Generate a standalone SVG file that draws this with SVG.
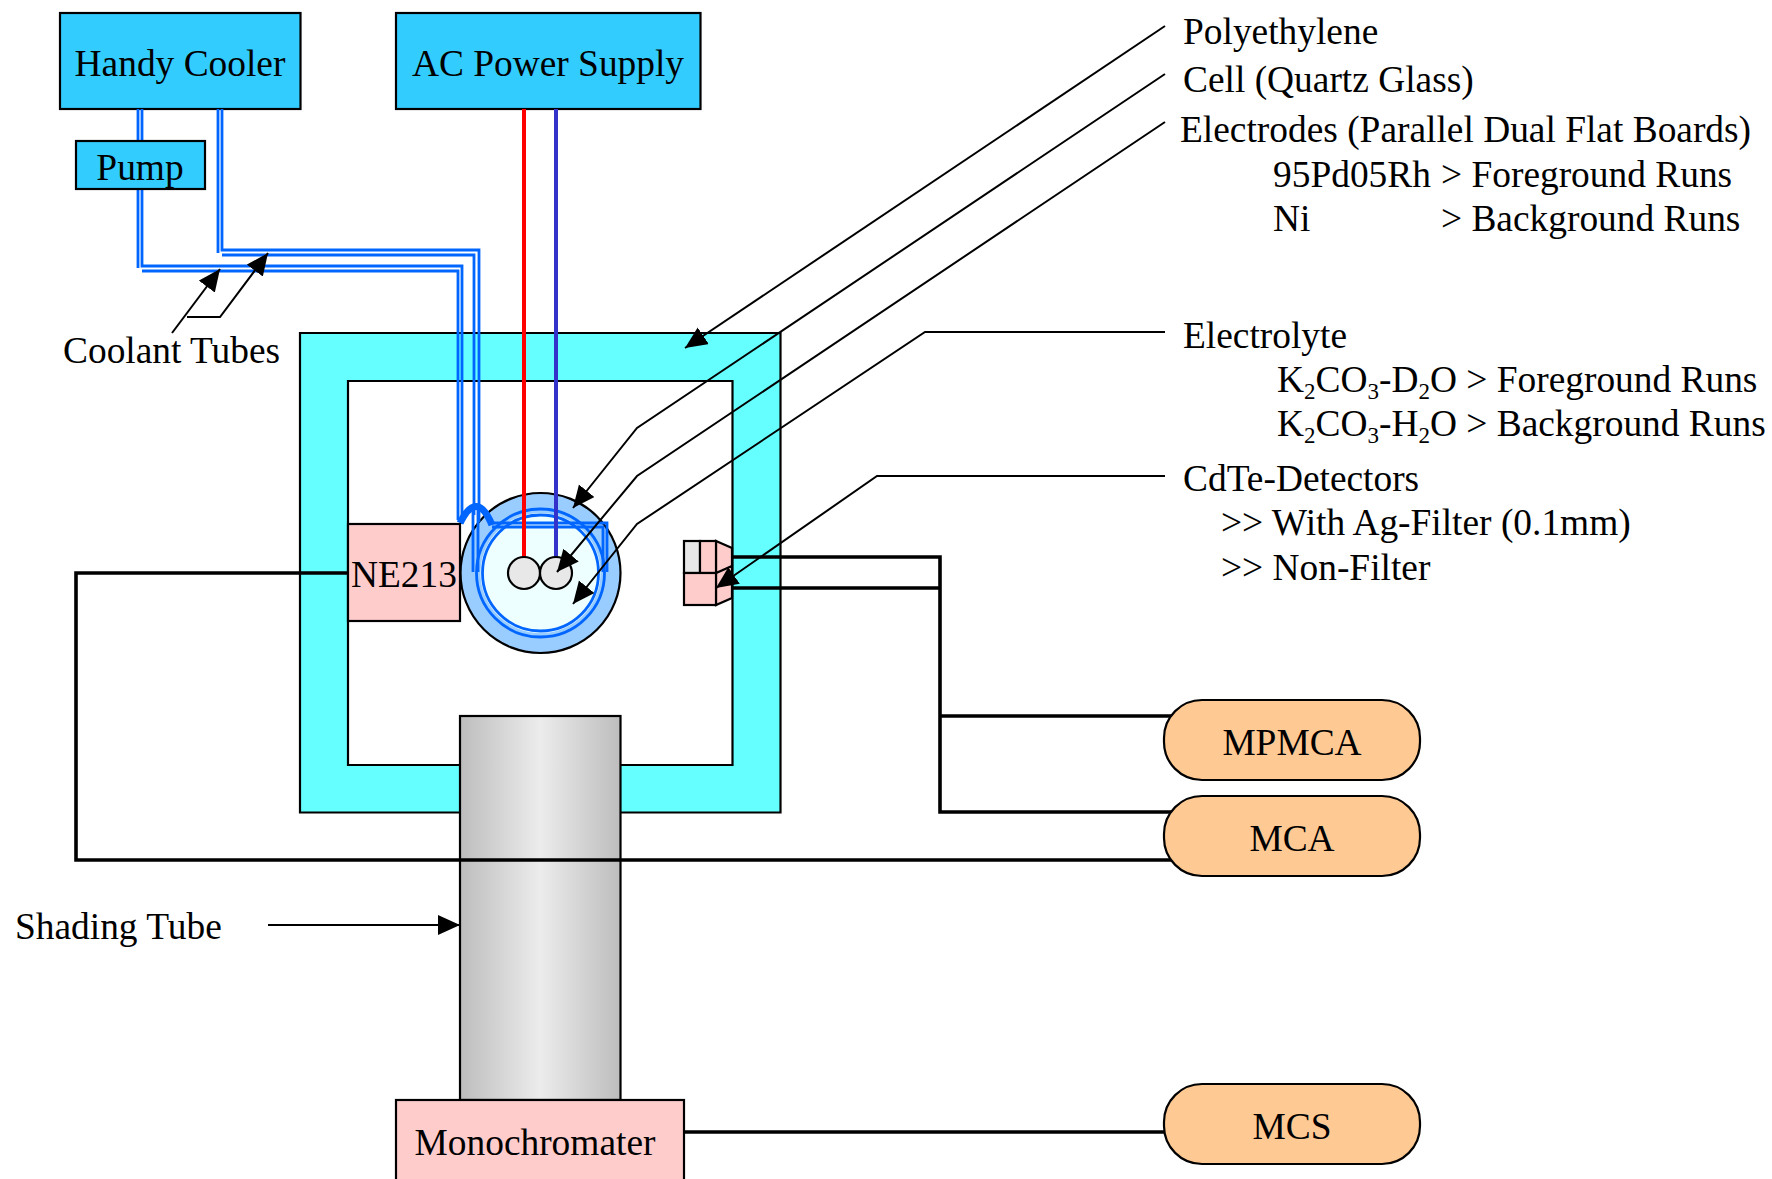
<svg xmlns="http://www.w3.org/2000/svg" width="1772" height="1179" viewBox="0 0 1772 1179">
<style>
text{font-family:"Liberation Serif","Times New Roman",serif;font-size:37.4px;fill:#000}
.m{text-anchor:middle}
.box{stroke:#000;stroke-width:2.200}
.cy{fill:#33ccff}.pk{fill:#ffcccc}.aq{fill:#66ffff}.or{fill:#ffc993}
.tube{fill:none;stroke:#0066ff;stroke-width:2.800}
.w{fill:none;stroke:#000;stroke-width:3.600}
.a{fill:none;stroke:#000;stroke-width:2;marker-end:url(#ah)}
.s{font-size:23px}
</style>
<defs>
<marker id="ah" markerUnits="userSpaceOnUse" markerWidth="26" markerHeight="22" refX="22" refY="10" orient="auto"><path d="M0 0L22 10L0 20Z" fill="#000"/></marker>
<linearGradient id="g" x1="0" x2="1" y1="0" y2="0"><stop offset="0" stop-color="#bdbdbd"/><stop offset=".5" stop-color="#ececec"/><stop offset="1" stop-color="#bdbdbd"/></linearGradient>
</defs>
<g id="polyethylene-box"><path class="box aq" fill-rule="evenodd" d="M300 333H780.500V812.500H300ZM348 381V765H732.500V381Z"/></g>
<g id="handy-cooler"><rect class="box cy" x="60" y="13" width="240.500" height="96"/><text class="m" x="180" y="76">Handy Cooler</text></g>
<g id="ac-power-supply"><rect class="box cy" x="396" y="13" width="304.500" height="96"/><text class="m" x="548" y="76">AC Power Supply</text></g>
<g id="cell"><circle class="box" cx="540.500" cy="573" r="80" fill="#99ccff"/><circle cx="540.500" cy="573" r="60" fill="#eeffff"/><circle class="tube" cx="540.500" cy="573" r="64"/><circle class="tube" cx="540.500" cy="573" r="58"/></g>
<g id="shading-tube"><rect class="box" x="460" y="716" width="160.500" height="384" fill="url(#g)"/></g>
<g id="connectors">
<path class="tube" d="M138 109V141M142 109V141M138 189V268M142 189V266H462V524M142 271H458V520M218 109V253M222 109V250H479V522M222 255H474V515"/>
<path class="tube" d="M473 510V572M478 510V572M492 523H607V572M492 527H603V572"/>
<path d="M460 523Q477 489 492 525" fill="none" stroke="#0066ff" stroke-width="7"/>
<path d="M524 109V557" stroke="#ff0000" stroke-width="4" fill="none"/>
<path d="M556 109V557" stroke="#3333cc" stroke-width="4" fill="none"/>
<path class="w" d="M348 573H76V860H1172"/>
<path class="w" d="M732 557H940V812H1172M732 588H940M940 716H1172"/>
<path class="w" d="M684 1132H1165"/>
</g>
<g id="electrodes"><circle class="box" cx="524" cy="573" r="16" fill="#e8e8e8"/><circle class="box" cx="556" cy="573" r="16" fill="#e8e8e8"/></g>
<g id="ne213"><rect class="box pk" x="348" y="524" width="112" height="97"/><text class="m" x="404" y="587">NE213</text></g>
<g id="pump"><rect class="box cy" x="76" y="141" width="129" height="48"/><text class="m" x="140" y="180">Pump</text></g>
<g id="detectors">
<path class="box pk" d="M716 541L732 548V566L716 573ZM716 573L732 566V598L716 605Z"/>
<rect class="box" x="684" y="541" width="16" height="32" fill="#e8e8e8"/>
<rect class="box pk" x="700" y="541" width="16" height="32"/>
<rect class="box pk" x="684" y="573" width="32" height="32"/>
</g>
<g id="monochromater"><rect class="box pk" x="396" y="1100" width="288" height="82"/><text class="m" x="535" y="1155">Monochromater</text></g>
<g id="mpmca"><rect class="box or" x="1164" y="700" width="256" height="80" rx="38"/><text class="m" x="1292" y="755">MPMCA</text></g>
<g id="mca"><rect class="box or" x="1164" y="796" width="256" height="80" rx="38"/><text class="m" x="1292" y="851">MCA</text></g>
<g id="mcs"><rect class="box or" x="1164" y="1084" width="256" height="80" rx="38"/><text class="m" x="1292" y="1139">MCS</text></g>
<g id="arrows">
<path class="a" d="M1165 26L685 348"/>
<path class="a" d="M1165 74L637 428L573 508"/>
<path class="a" d="M1165 122L637 476L557 572"/>
<path class="a" d="M1165 332H925L637 524L573 604"/>
<path class="a" d="M1165 476H877L716 588"/>
<path class="a" d="M172 333L220 269"/>
<path class="a" d="M187 317H220L268 253"/>
<path class="a" d="M268 925H460"/>
</g>
<g id="labels">
<text x="63" y="363">Coolant Tubes</text>
<text x="15" y="939">Shading Tube</text>
<text x="1183" y="44">Polyethylene</text>
<text x="1183" y="92">Cell (Quartz Glass)</text>
<text x="1180" y="142">Electrodes (Parallel Dual Flat Boards)</text>
<text x="1273" y="187">95Pd05Rh</text><text x="1441" y="187">&gt; Foreground Runs</text>
<text x="1273" y="231">Ni</text><text x="1441" y="231">&gt; Background Runs</text>
<text x="1183" y="348">Electrolyte</text>
<text x="1277" y="392">K<tspan class="s" dy="7">2</tspan><tspan dy="-7">CO</tspan><tspan class="s" dy="7">3</tspan><tspan dy="-7">-D</tspan><tspan class="s" dy="7">2</tspan><tspan dy="-7">O &gt; Foreground Runs</tspan></text>
<text x="1277" y="436">K<tspan class="s" dy="7">2</tspan><tspan dy="-7">CO</tspan><tspan class="s" dy="7">3</tspan><tspan dy="-7">-H</tspan><tspan class="s" dy="7">2</tspan><tspan dy="-7">O &gt; Background Runs</tspan></text>
<text x="1183" y="491">CdTe-Detectors</text>
<text x="1221" y="535">&gt;&gt; With Ag-Filter (0.1mm)</text>
<text x="1221" y="580">&gt;&gt; Non-Filter</text>
</g>
</svg>
